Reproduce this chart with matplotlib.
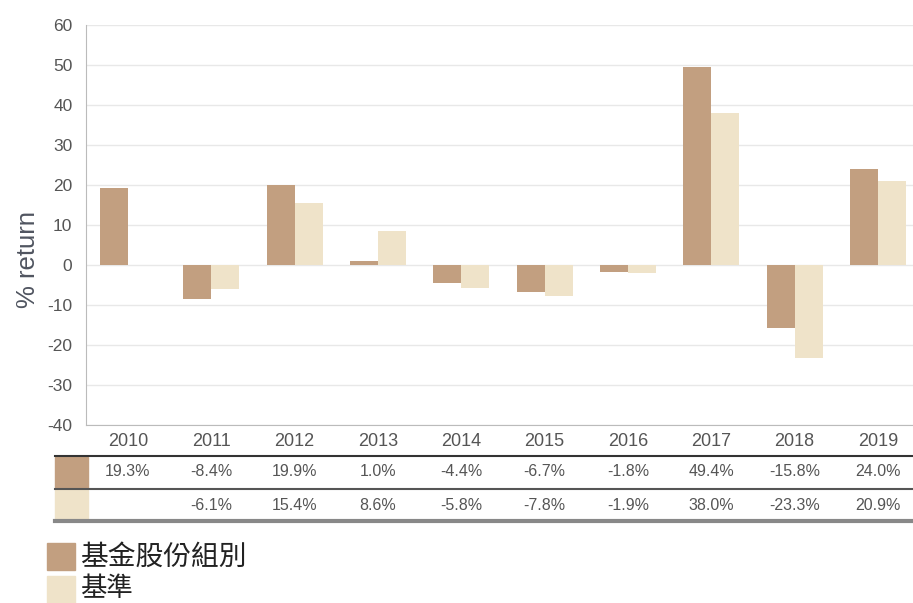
import matplotlib
matplotlib.use("Agg")
import matplotlib.pyplot as plt
from matplotlib.transforms import blended_transform_factory
from matplotlib.patches import Rectangle
from matplotlib.lines import Line2D
import numpy as np

years = ["2010", "2011", "2012", "2013", "2014", "2015", "2016", "2017", "2018", "2019"]
fund = [19.3, -8.4, 19.9, 1.0, -4.4, -6.7, -1.8, 49.4, -15.8, 24.0]
bench = [None, -6.1, 15.4, 8.6, -5.8, -7.8, -1.9, 38.0, -23.3, 20.9]
series_names = ["基金股份組別", "基準"]
yticks = [-40, -30, -20, -10, 0, 10, 20, 30, 40, 50, 60]

c_fund = "#C29F80"
c_bench = "#EFE3C9"

W, H = 913, 603
fig = plt.figure(figsize=(W / 100, H / 100), dpi=100)
plt.rcParams['font.family'] = ['Liberation Sans', 'DejaVu Sans']

def fx(px):
    return px / W

def fy(py):
    return 1 - py / H

left_px, right_px = 86.3, 919.6
top_px, bot_px = 25, 425
ax_w = right_px - left_px
ax = fig.add_axes([fx(left_px), fy(bot_px), ax_w / W, (bot_px - top_px) / H])

x = np.arange(len(years))
bw = 0.336
ax.bar(x - bw / 2, fund, width=bw, color=c_fund, zorder=3)
bx = [xi for xi, v in zip(x, bench) if v is not None]
bv = [v for v in bench if v is not None]
ax.bar(np.array(bx) + bw / 2, bv, width=bw, color=c_bench, zorder=3)

ax.set_xlim(-0.5, len(years) - 0.5)
ax.set_ylim(-40, 60)
ax.set_yticks(yticks)
ax.set_yticklabels([str(t) for t in yticks], fontsize=12.5, color="#555555")
ax.set_xticks(x)
ax.set_xticklabels(years, fontsize=13, color="#555555")
ax.tick_params(axis="both", length=0)
ax.tick_params(axis="x", pad=6)
ax.tick_params(axis="y", pad=10)
ax.grid(axis="y", color="#E8E8E8", linewidth=1, zorder=0)
for s in ["top", "right"]:
    ax.spines[s].set_visible(False)
ax.spines["left"].set_color("#BBBBBB")
ax.spines["bottom"].set_color("#BBBBBB")
ax.set_ylabel("% return", fontsize=18.5, color="#505560")
ax.yaxis.set_label_coords((40 - left_px) / ax_w, 0.415)

# table under chart
tr = blended_transform_factory(ax.transData, fig.transFigure)
line_l, line_r = fx(55), 1.0
fig.add_artist(Line2D([line_l, line_r], [fy(456), fy(456)], color="#333333", linewidth=1.5))
fig.add_artist(Line2D([line_l, line_r], [fy(489), fy(489)], color="#555555", linewidth=1.5))
fig.add_artist(Line2D([line_l, line_r], [fy(521), fy(521)], color="#888888", linewidth=3))
fig.add_artist(Rectangle((fx(55), fy(488)), fx(88) - fx(55), fy(457) - fy(488), color=c_fund, transform=fig.transFigure))
fig.add_artist(Rectangle((fx(55), fy(520)), fx(88) - fx(55), fy(490) - fy(520), color=c_bench, transform=fig.transFigure))
for i, v in enumerate(fund):
    fig.text(i, fy(472), f"{v:.1f}%", transform=tr, ha="center", va="center", fontsize=11.5, color="#555555")
for i, v in enumerate(bench):
    if v is not None:
        fig.text(i, fy(505), f"{v:.1f}%", transform=tr, ha="center", va="center", fontsize=11.5, color="#555555")

# legend
cjk = ['Noto Sans CJK TC', 'DejaVu Sans']
fig.add_artist(Rectangle((fx(47), fy(570)), fx(75) - fx(47), fy(543) - fy(570), color=c_fund, transform=fig.transFigure))
fig.add_artist(Rectangle((fx(47), fy(603)), fx(75) - fx(47), fy(576) - fy(603), color=c_bench, transform=fig.transFigure))
fig.text(fx(80), fy(557), series_names[0], family=cjk, fontsize=20, color="#222222", va="center", ha="left")
fig.text(fx(80), fy(589), series_names[1], family=cjk, fontsize=19, color="#222222", va="center", ha="left")

fig.savefig("out.png", dpi=100)
